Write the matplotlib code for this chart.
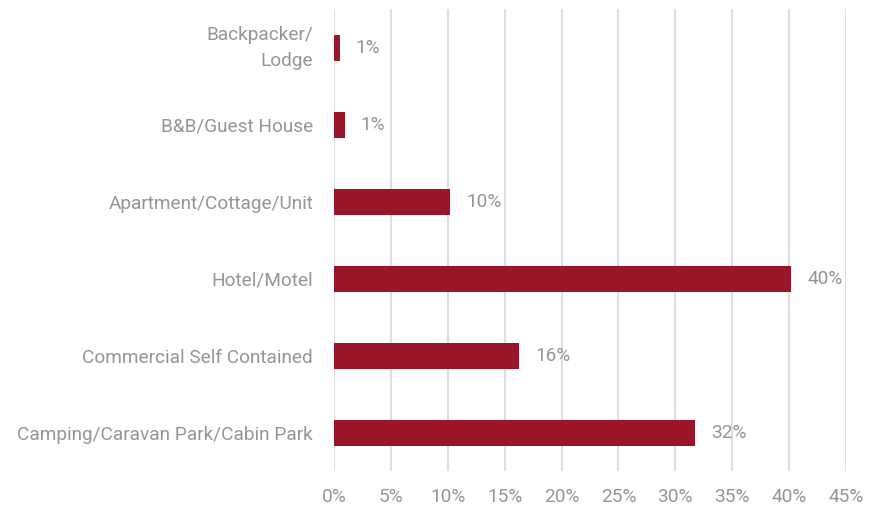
import matplotlib
matplotlib.use("Agg")
import matplotlib.pyplot as plt

# accommodation types, top to bottom
categories = [
    "Backpacker/\nLodge",
    "B&B/Guest House",
    "Apartment/Cottage/Unit",
    "Hotel/Motel",
    "Commercial Self Contained",
    "Camping/Caravan Park/Cabin Park",
]
shares = [0.5, 0.95, 10.2, 40.2, 16.3, 31.7]  # percent
xticks = [0, 5, 10, 15, 20, 25, 30, 35, 40, 45]

bar_color = "#9b1528"
text_color = "#959595"
grid_color = "#dedede"

plt.rcParams["font.family"] = ["Roboto", "DejaVu Sans"]
fs = 13.7

fig = plt.figure(figsize=(8.74, 5.08), dpi=100)
ax = fig.add_axes([0.3822, 0.0719, 0.968 - 0.3822, 0.9094])

ypos = list(range(len(categories)))
ax.barh(ypos, shares, height=0.33, color=bar_color, zorder=3)

for y, v in zip(ypos, shares):
    ax.annotate(f"{int(v + 0.5)}%", xy=(v, y), xytext=(16, 0),
                textcoords="offset pixels", va="center", ha="left",
                fontsize=fs, color=text_color)

ax.set_xlim(0, 45)
ax.set_ylim(len(categories) - 0.5, -0.5)
ax.set_yticks(ypos)
ax.set_yticklabels(categories, fontsize=fs, color=text_color,
                   linespacing=1.56)
# two-line label sits centred on its bar
for lbl in ax.get_yticklabels():
    if "\n" in lbl.get_text():
        lbl.set_va("center")
ax.set_xticks(xticks)
ax.set_xticklabels([f"{t}%" for t in xticks], fontsize=fs, color=text_color)
ax.tick_params(axis="y", length=0, pad=15)
ax.tick_params(axis="x", length=0, pad=12)

ax.grid(axis="x", color=grid_color, linewidth=1.5, zorder=0)
for s in ax.spines.values():
    s.set_visible(False)

fig.savefig("out.png", dpi=100)
